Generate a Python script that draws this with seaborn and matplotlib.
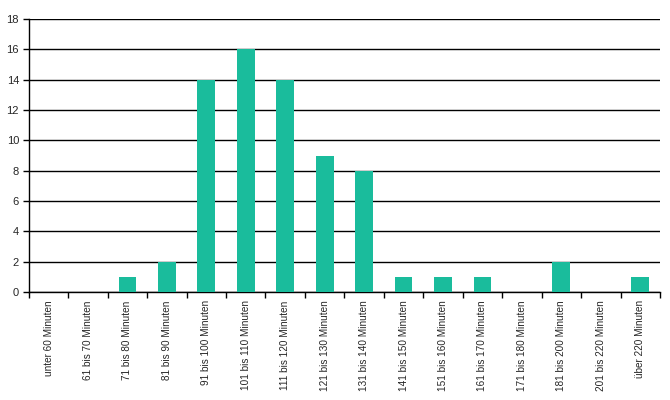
import matplotlib
matplotlib.use("Agg")
from matplotlib import pyplot as plt
import seaborn as sns
import pandas as pd

# categories and counts
categories = ['unter 60 Minuten', '61 bis 70 Minuten', '71 bis 80 Minuten', '81 bis 90 Minuten',
              '91 bis 100 Minuten', '101 bis 110 Minuten', '111 bis 120 Minuten', '121 bis 130 Minuten',
              '131 bis 140 Minuten', '141 bis 150 Minuten', '151 bis 160 Minuten', '161 bis 170 Minuten',
              '171 bis 180 Minuten', '181 bis 200 Minuten', '201 bis 220 Minuten', 'über 220 Minuten']
counts = [0, 0, 1, 2, 14, 16, 14, 9, 8, 1, 1, 1, 0, 2, 0, 1]
y_ticks = list(range(0, 19, 2))

sns.set_style("white")
plt.rcParams['font.family'] = ['Liberation Sans', 'DejaVu Sans']

df = pd.DataFrame({'cat': categories, 'count': counts})

fig = plt.figure(figsize=(6.7, 4.0), dpi=100)
ax = fig.add_axes([0.043, 0.27, 0.942, 0.6825])

sns.barplot(ax=ax, data=df, x='cat', y='count', color='#1ABC9C', saturation=1, width=0.45,
            linewidth=0, zorder=3)

ax.set_ylim(0, 18)
ax.set_xlim(-0.5, len(categories) - 0.5)
ax.set_yticks(y_ticks)
ax.set_yticklabels([str(t) for t in y_ticks], fontsize=8)
ax.yaxis.grid(True, color='black', linewidth=1, zorder=0)
ax.set_axisbelow(True)

# labels at centers, tick marks at category boundaries
ax.set_xticks(range(len(categories)))
ax.set_xticklabels(categories, rotation=90, fontsize=7.2)
ax.tick_params(axis='x', which='major', length=0, pad=6)
ax.set_xticks([i - 0.5 for i in range(len(categories) + 1)], minor=True)
ax.tick_params(axis='x', which='minor', length=4, width=1, color='black', direction='out', bottom=True)
ax.tick_params(axis='y', length=4, width=1, color='black', direction='out', left=True, pad=3)

ax.set(xlabel=None, ylabel=None)
for side in ['top', 'right']:
    ax.spines[side].set_visible(False)
for side in ['left', 'bottom']:
    ax.spines[side].set_color('black')
    ax.spines[side].set_linewidth(1)

plt.savefig('out.png', dpi=100)
